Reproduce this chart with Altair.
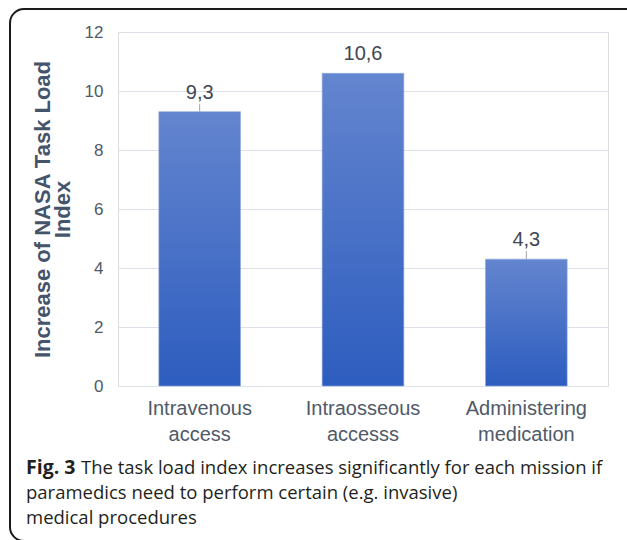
import altair as alt
import pandas as pd

categories = ["Intravenous access", "Intraosseous accesss", "Administering medication"]
values = [9.3, 10.6, 4.3]
leader_shown = [True, False, True]
y_ticks = [0, 2, 4, 6, 8, 10, 12]
y_title = ["Increase of NASA Task Load", "Index"]
caption_bold = "Fig. 3"
caption_lines = [
    "The task load index increases significantly for each mission if",
    "paramedics need to perform certain (e.g. invasive)",
    "medical procedures",
]

df = pd.DataFrame({"category": categories, "value": values, "leader": leader_shown})

FONT = "Liberation Sans"
CAP_FONT = "Open Sans"

x_enc = alt.X(
    "category:N",
    sort=categories,
    scale=alt.Scale(paddingInner=0.5, paddingOuter=0.25),
    axis=alt.Axis(
        title=None,
        labelAngle=0,
        labelExpr="split(datum.label, ' ')",
        labelFont=FONT,
        labelFontSize=20,
        labelColor="#505a68",
        labelLineHeight=26,
        labelPadding=12,
        ticks=False,
        domain=True,
        domainColor="#dde2ea",
        grid=False,
    ),
)
y_enc = alt.Y(
    "value:Q",
    scale=alt.Scale(domain=[0, 12], nice=False),
    axis=alt.Axis(
        values=y_ticks,
        title=y_title,
        titleFont=FONT,
        titleFontSize=22,
        titleFontWeight="bold",
        titleColor="#44546a",
        titleLineHeight=20,
        titleBaseline="middle",
        titleAlign="center",
        titleX=-76,
        titleY=177,
        labelFont=FONT,
        labelFontSize=17,
        labelColor="#505a68",
        labelPadding=15,
        ticks=False,
        domain=False,
        grid=True,
        gridColor="#dde2ea",
        gridWidth=1,
    ),
)

gradient = alt.Gradient(
    gradient="linear",
    x1=0, y1=0, x2=0, y2=1,
    stops=[
        alt.GradientStop(offset=0, color="#6485cf"),
        alt.GradientStop(offset=1, color="#2d5dbf"),
    ],
)

base = alt.Chart(df)

bars = base.mark_bar(color=gradient, stroke="#8ea8de", strokeWidth=0.6).encode(x=x_enc, y=y_enc)

labels = base.transform_calculate(
    lbl="replace(format(datum.value, '.1f'), '.', ',')"
).mark_text(
    font=FONT, fontSize=20, color="#404654", baseline="alphabetic", dy=-13
).encode(x=alt.X("category:N", sort=categories), y="value:Q", text="lbl:N")

leaders = base.transform_filter("datum.leader").mark_rule(
    color="#a6a6a6", strokeWidth=1, yOffset=-8, y2Offset=0
).encode(x=alt.X("category:N", sort=categories), y="value:Q", y2="value:Q")

one = pd.DataFrame({"a": [0]})
border = alt.Chart(one).mark_rect(
    fillOpacity=0, stroke="#1a1a1a", strokeWidth=2, cornerRadius=14
).encode(x=alt.value(-108), x2=alt.value(522), y=alt.value(-23), y2=alt.value(509))

cap_style = dict(font=CAP_FONT, fontSize=18.5, color="#231f20", align="left", baseline="alphabetic")

cap_bold = alt.Chart(one).mark_text(**{**cap_style, "fontSize": 19.5}, fontWeight="bold").encode(
    x=alt.value(-92), y=alt.value(442), text=alt.value(caption_bold)
)
cap_l1 = alt.Chart(one).mark_text(**cap_style).encode(
    x=alt.value(-37), y=alt.value(442), text=alt.value(caption_lines[0])
)
cap_l2 = alt.Chart(one).mark_text(**cap_style).encode(
    x=alt.value(-92), y=alt.value(467), text=alt.value(caption_lines[1])
)
cap_l3 = alt.Chart(one).mark_text(**cap_style).encode(
    x=alt.value(-92), y=alt.value(492), text=alt.value(caption_lines[2])
)

chart = alt.layer(bars, leaders, labels, border, cap_bold, cap_l1, cap_l2, cap_l3).properties(
    width=490,
    height=354,
    autosize=alt.AutoSizeParams(type="none"),
    padding={"left": 118, "top": 32, "right": 19, "bottom": 154},
).configure_view(stroke=None).configure(background="white")

chart.save("out.html", embed_options={"renderer": "svg", "actions": False})
